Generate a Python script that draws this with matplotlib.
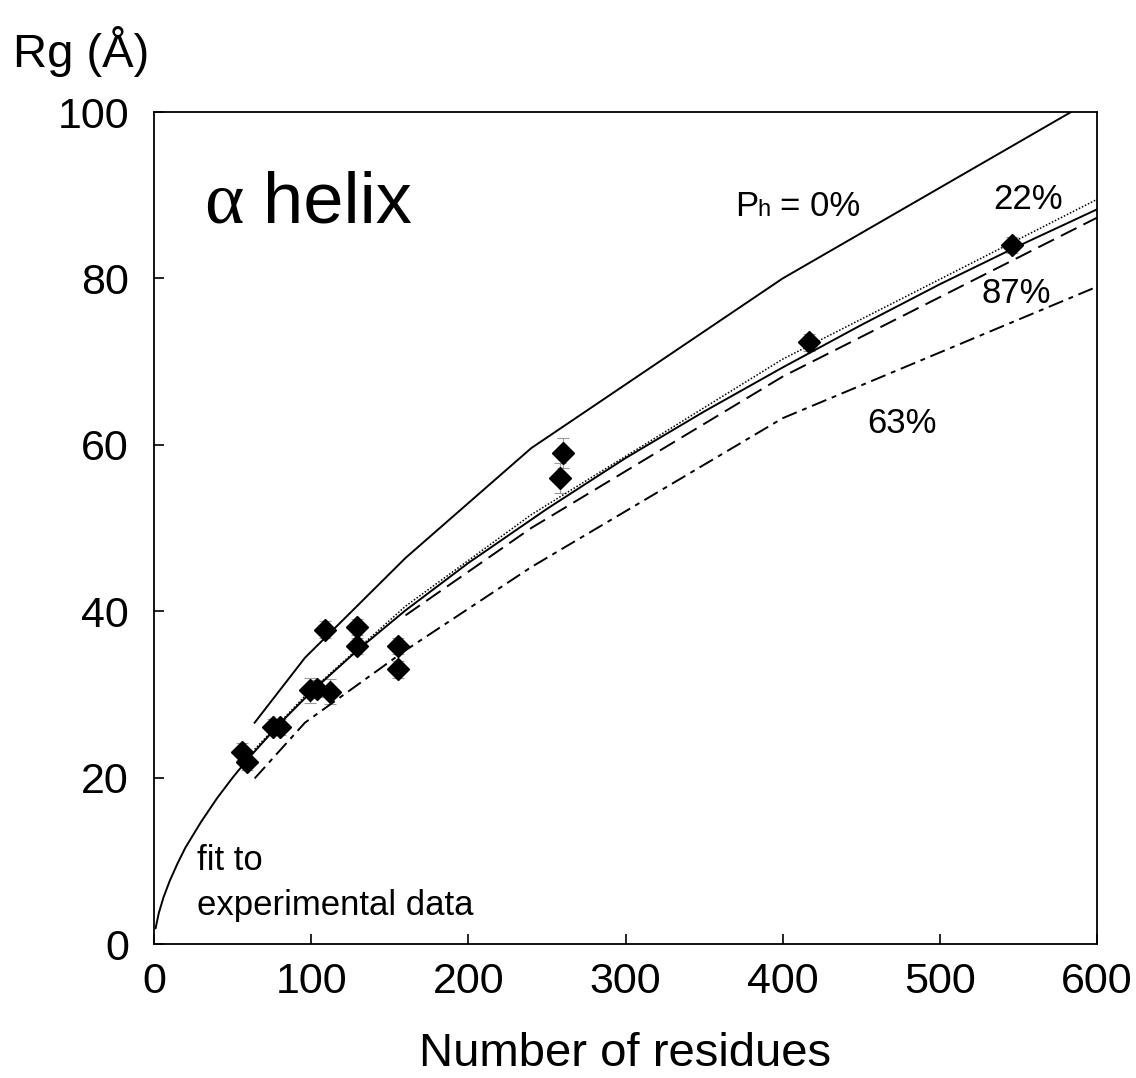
import matplotlib
matplotlib.use("Agg")
import matplotlib.pyplot as plt

plt.rcParams['font.family'] = ['Liberation Sans', 'DejaVu Sans']

# measured Rg of unfolded proteins (Number of residues vs Rg)
residues = [56, 59, 76, 80, 99, 104, 112, 109, 129, 129, 155, 155, 258, 260, 417, 546]
rg = [23.1, 21.9, 26.1, 26.1, 30.5, 30.7, 30.3, 37.8, 38.1, 35.8, 35.8, 33.0, 56.0, 59.0, 72.3, 84.0]
rg_err = [1.0, 1.0, 1.0, 1.0, 1.5, 1.0, 1.5, 1.0, 1.0, 1.0, 1.0, 1.0, 1.8, 1.8, 1.0, 1.0]

# power-law fit through the experimental points
fit_n = [1, 3, 6, 10, 15, 20, 30, 40, 50, 60, 80, 100, 130, 160, 200, 250,
         300, 350, 400, 450, 500, 550, 600]
fit_rg = [1.9, 3.7, 5.6, 7.6, 9.7, 11.6, 14.7, 17.5, 20.0, 22.3, 26.5, 30.3, 35.4,
          40.1, 45.8, 52.3, 58.4, 64.0, 69.3, 74.4, 79.3, 83.9, 88.3]

# simulated chains for different helix propensities Ph
sim_n = [64, 96, 160, 240, 400, 600]
ph_0 = [26.6, 34.4, 46.4, 59.6, 80.0, 101.8]
ph_22 = [23.4, 29.8, 40.6, 51.6, 70.3, 89.5]
ph_63 = [19.9, 26.6, 35.3, 45.3, 63.2, 79.0]
sim_n_87 = [160, 240, 400, 600]
ph_87 = [39.5, 50.0, 68.2, 87.3]

fig = plt.figure(figsize=(11.36, 10.78), dpi=100)
ax = fig.add_axes([0.1356, 0.1243, 0.8301, 0.7718])

lw = 1.4
ax.plot(fit_n, fit_rg, color='black', lw=lw, zorder=3)
ax.plot(sim_n, ph_0, color='black', lw=lw, zorder=3)
ax.plot(sim_n, ph_22, color='black', lw=1.1, linestyle=(0, (1, 1.2)), zorder=3)
ax.plot(sim_n_87, ph_87, color='black', lw=lw, dashes=(9, 4), zorder=3)
ax.plot(sim_n, ph_63, color='black', lw=lw, dashes=(8, 3, 2.5, 3), zorder=3)

ax.errorbar(residues, rg, yerr=rg_err, fmt='none', ecolor='0.6',
            elinewidth=0.8, capsize=4, capthick=0.8, zorder=2)
ax.plot(residues, rg, linestyle='none', marker='D', markersize=11,
        color='black', zorder=4)

ax.set_xlim(0, 600)
ax.set_ylim(0, 100)
ax.set_xticks([0, 100, 200, 300, 400, 500, 600])
ax.set_yticks([0, 20, 40, 60, 80, 100])
ax.tick_params(direction='in', length=7, width=1.2, labelsize=31,
               top=False, right=False)
ax.tick_params(axis='y', pad=18)
ax.tick_params(axis='x', pad=13)
for s in ax.spines.values():
    s.set_linewidth(1.3)

# labels inside the plot
ax.text(31.8, 86.7, 'α', fontsize=54, family=['Liberation Serif', 'DejaVu Serif'],
        va='baseline', ha='left')
ax.text(69.3, 86.7, 'helix', fontsize=52, va='baseline', ha='left')

ax.text(369.6, 87.5, 'P', fontsize=25, va='baseline', ha='left')
ax.text(383.6, 87.5, 'h', fontsize=17, va='baseline', ha='left')
ax.text(398.2, 87.5, '= 0%', fontsize=25, va='baseline', ha='left')
ax.text(533.7, 88.4, '22%', fontsize=25, va='baseline', ha='left')
ax.text(526.7, 77.1, '87%', fontsize=25, va='baseline', ha='left')
ax.text(453.6, 61.4, '63%', fontsize=25, va='baseline', ha='left')

ax.text(27.4, 8.9, 'fit to', fontsize=25, va='baseline', ha='left')
ax.text(27.4, 3.5, 'experimental data', fontsize=25, va='baseline', ha='left')

fig.text(0.0114, 0.9378, 'Rg (Å)', fontsize=34, va='baseline', ha='left')
fig.text(0.5506, 0.011, 'Number of residues', fontsize=34, va='baseline', ha='center')

fig.savefig('out.png', dpi=100)
